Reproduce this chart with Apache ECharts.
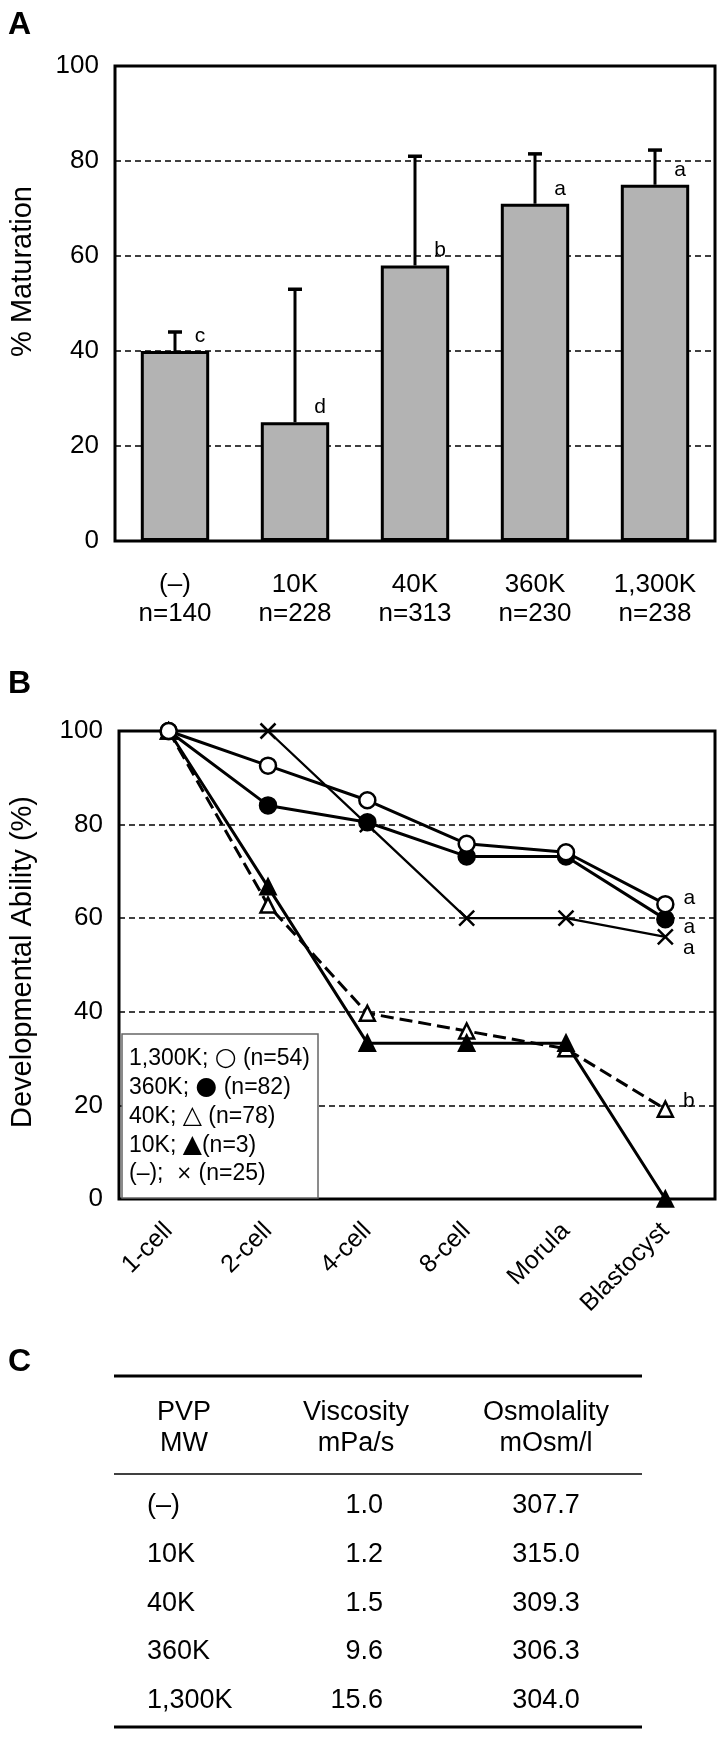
<!DOCTYPE html>
<html>
<head>
<meta charset="utf-8">
<script src="https://cdn.jsdelivr.net/npm/echarts@6/dist/echarts.min.js"></script>
<style>
html,body{margin:0;padding:0;background:#fff;}
#c{width:721px;height:1739px;}
</style>
</head>
<body>
<div id="c"></div>
<script>
// ---------- Data: panel A ----------
const aCategories = ['(–)', '10K', '40K', '360K', '1,300K'];
const aSampleSizes = ['n=140', 'n=228', 'n=313', 'n=230', 'n=238'];
const aMaturation = [40, 25, 58, 71, 75];
const aErrorTop = [44, 53, 81, 81.5, 82.3];
const aLetters = ['c', 'd', 'b', 'a', 'a'];

// ---------- Data: panel B ----------
const bStages = ['1-cell', '2-cell', '4-cell', '8-cell', 'Morula', 'Blastocyst'];
const bNames = ['1,300K', '360K', '40K', '10K', '(–)'];
const bGlyphs = ['○', '●', '△', '▲', '×'];
const bLegendTail = [' (n=54)', ' (n=82)', ' (n=78)', '(n=3)', ' (n=25)'];
const b1300K = [100, 92.6, 85.2, 75.9, 74.1, 63.0];
const b360K = [100, 84.1, 80.5, 73.2, 73.2, 59.8];
const b40K = [100, 62.8, 39.7, 35.9, 32.1, 19.2];
const b10K = [100, 66.7, 33.3, 33.3, 33.3, 0];
const bNone = [null, 100, 80, 60, 60, 56];
const bLetters = ['a', 'a', 'b', '', 'a'];

// ---------- Data: panel C (table) ----------
const cHeadTop = ['PVP', 'Viscosity', 'Osmolality'];
const cHeadBottom = ['MW', 'mPa/s', 'mOsm/l'];
const cMW = ['(–)', '10K', '40K', '360K', '1,300K'];
const cViscosity = ['1.0', '1.2', '1.5', '9.6', '15.6'];
const cOsmolality = ['307.7', '315.0', '309.3', '306.3', '304.0'];

// ---------- Build ----------
const FONT = 'Liberation Sans, Arial, Helvetica, sans-serif';
const chart = echarts.init(document.getElementById('c'), null, {renderer: 'canvas'});

const bSeriesData = [b1300K, b360K, b40K, b10K, bNone];
// label offsets for significance letters (style only)
const bLetterOffset = [[4, -6], [4, 8], [4, -8], [0, 0], [4, 11]];
const bStyles = {
  '1,300K': {symbol: 'circle', size: 16, fill: '#fff', dash: 'solid', lw: 3},
  '360K': {symbol: 'circle', size: 16, fill: '#000', dash: 'solid', lw: 3},
  '40K': {symbol: 'triangle', size: 15, fill: '#fff', dash: [13, 6], lw: 3},
  '10K': {symbol: 'triangle', size: 15, fill: '#000', dash: 'solid', lw: 3},
  '(–)': {symbol: 'path://M0,0L10,10M10,0L0,10', size: 15, fill: 'rgba(0,0,0,0)', dash: 'solid', lw: 2.3}
};
// legend glyph style keys (style only)
const bGlyphStyle = ['g', 'g', 'g', 'g', 'x'];
// draw order (later on top)
const bDrawOrder = ['40K', '10K', '(–)', '360K', '1,300K'];

const bSeries = bDrawOrder.map(name => {
  const idx = bNames.indexOf(name);
  const st = bStyles[name];
  const vals = bSeriesData[idx];
  const last = vals.length - 1;
  const data = vals.map((v, i) => {
    if (i === last && bLetters[idx]) {
      return {
        value: v,
        label: {
          show: true, formatter: bLetters[idx], position: 'right',
          offset: bLetterOffset[idx], fontSize: 21, color: '#000', fontFamily: FONT
        }
      };
    }
    return v === null ? '-' : v;
  });
  return {
    name: name,
    type: 'line',
    xAxisIndex: 1, yAxisIndex: 1,
    data: data,
    symbol: st.symbol,
    symbolSize: st.size,
    showAllSymbol: true,
    connectNulls: false,
    animation: false,
    lineStyle: {color: '#000', width: st.lw, type: st.dash},
    itemStyle: {color: st.fill, borderColor: '#000', borderWidth: 2.5},
    emphasis: {disabled: true}
  };
});

// Table graphics
const TF = 27;
const tableGraphics = [];
const ruleX1 = 114, ruleX2 = 642;
tableGraphics.push({type: 'line', shape: {x1: ruleX1, y1: 1376, x2: ruleX2, y2: 1376}, style: {stroke: '#000', lineWidth: 3}});
tableGraphics.push({type: 'line', shape: {x1: ruleX1, y1: 1474, x2: ruleX2, y2: 1474}, style: {stroke: '#000', lineWidth: 1.5}});
tableGraphics.push({type: 'line', shape: {x1: ruleX1, y1: 1727, x2: ruleX2, y2: 1727}, style: {stroke: '#000', lineWidth: 3}});
const headCenters = [184, 356, 546];
cHeadTop.forEach((t, i) => {
  tableGraphics.push({type: 'text', x: headCenters[i], y: 1413, style: {text: t, align: 'center', verticalAlign: 'middle', fontSize: TF, fontFamily: FONT, fill: '#000'}});
  tableGraphics.push({type: 'text', x: headCenters[i], y: 1444, style: {text: cHeadBottom[i], align: 'center', verticalAlign: 'middle', fontSize: TF, fontFamily: FONT, fill: '#000'}});
});
const rowY0 = 1506, rowStep = 48.6;
cMW.forEach((t, r) => {
  const y = rowY0 + r * rowStep;
  tableGraphics.push({type: 'text', x: 147, y: y, style: {text: t, align: 'left', verticalAlign: 'middle', fontSize: TF, fontFamily: FONT, fill: '#000'}});
  tableGraphics.push({type: 'text', x: 383, y: y, style: {text: cViscosity[r], align: 'right', verticalAlign: 'middle', fontSize: TF, fontFamily: FONT, fill: '#000'}});
  tableGraphics.push({type: 'text', x: 546, y: y, style: {text: cOsmolality[r], align: 'center', verticalAlign: 'middle', fontSize: TF, fontFamily: FONT, fill: '#000'}});
});

const panelLabels = [['A', 25], ['B', 684], ['C', 1362]].map(([t, y]) => ({
  type: 'text', x: 8, y: y,
  style: {text: t, align: 'left', verticalAlign: 'middle', fontSize: 32, fontWeight: 'bold', fontFamily: FONT, fill: '#000'}
}));

const option = {
  animation: false,
  backgroundColor: '#fff',
  textStyle: {fontFamily: FONT, color: '#000'},
  grid: [
    {left: 102, top: 66, width: 613, height: 475, show: true, borderColor: '#000', borderWidth: 3, backgroundColor: 'rgba(0,0,0,0)', containLabel: false},
    {left: 104, top: 731, width: 611, height: 468, show: true, borderColor: '#000', borderWidth: 3, backgroundColor: 'rgba(0,0,0,0)', containLabel: false}
  ],
  xAxis: [
    {
      type: 'category', gridIndex: 0, data: aCategories,
      axisLine: {show: false}, axisTick: {show: false},
      axisLabel: {
        fontSize: 26, color: '#000', fontFamily: FONT, lineHeight: 29, margin: 29, interval: 0,
        formatter: (v, i) => v + '\n' + aSampleSizes[i]
      }
    },
    {
      type: 'category', gridIndex: 1, data: bStages, boundaryGap: true,
      axisLine: {show: false}, axisTick: {show: false},
      axisLabel: {fontSize: 25, color: '#000', fontFamily: FONT, rotate: 45, margin: 28, interval: 0}
    }
  ],
  yAxis: [
    {
      type: 'value', gridIndex: 0, min: 0, max: 100, interval: 20,
      axisLine: {show: false}, axisTick: {show: false},
      axisLabel: {fontSize: 26, color: '#000', fontFamily: FONT, margin: 16},
      splitLine: {show: true, lineStyle: {color: '#000', width: 1.5, type: [6, 4]}},
      name: '% Maturation', nameLocation: 'middle', nameGap: 78, nameRotate: 90,
      nameTextStyle: {fontSize: 29, color: '#000', fontFamily: FONT, padding: [0, 0, 0, 64]}
    },
    {
      type: 'value', gridIndex: 1, min: 0, max: 100, interval: 20,
      axisLine: {show: false}, axisTick: {show: false},
      axisLabel: {fontSize: 26, color: '#000', fontFamily: FONT, margin: 16},
      splitLine: {show: true, lineStyle: {color: '#000', width: 1.5, type: [6, 4]}},
      name: 'Developmental Ability (%)', nameLocation: 'middle', nameGap: 82, nameRotate: 90,
      nameTextStyle: {fontSize: 29, color: '#000', fontFamily: FONT, padding: [0, 0, 0, 6]}
    }
  ],
  legend: {
    data: bNames,
    orient: 'vertical',
    left: 122, top: 1034,
    icon: 'none',
    itemWidth: 0, itemHeight: 24, itemGap: 4,
    padding: [12, 8, 12, 2],
    backgroundColor: '#fff',
    borderColor: '#666', borderWidth: 1.5, borderRadius: 0,
    selectedMode: false,
    textStyle: {
      fontSize: 23, color: '#000', fontFamily: FONT, lineHeight: 24,
      rich: {
        t: {fontSize: 23, fontFamily: FONT, color: '#000', lineHeight: 24},
        g: {fontSize: 25, fontFamily: 'DejaVu Sans', color: '#000', lineHeight: 24},
        x: {fontSize: 19, fontFamily: 'DejaVu Sans', color: '#000', lineHeight: 24}
      }
    },
    formatter: name => {
      const i = bNames.indexOf(name);
      const pre = i === bNames.length - 1 ? ';  ' : '; ';
      return '{t|' + name + pre + '}{' + bGlyphStyle[i] + '|' + bGlyphs[i] + '}{t|' + bLegendTail[i] + '}';
    }
  },
  series: [
    {
      type: 'bar', xAxisIndex: 0, yAxisIndex: 0,
      data: aMaturation,
      barWidth: '57%',
      itemStyle: {color: '#b3b3b3', borderColor: '#000', borderWidth: 3},
      emphasis: {disabled: true},
      z: 2
    },
    {
      type: 'custom', xAxisIndex: 0, yAxisIndex: 0,
      data: aMaturation.map((v, i) => [i, v, aErrorTop[i]]),
      z: 3,
      renderItem: (params, api) => {
        const i = params.dataIndex;
        const base = api.coord([api.value(0), api.value(1)]);
        const top = api.coord([api.value(0), api.value(2)]);
        return {
          type: 'group',
          children: [
            {type: 'line', shape: {x1: base[0], y1: base[1], x2: top[0], y2: top[1]}, style: {stroke: '#000', lineWidth: 3}},
            {type: 'line', shape: {x1: top[0] - 7, y1: top[1], x2: top[0] + 7, y2: top[1]}, style: {stroke: '#000', lineWidth: 3.5}},
            {type: 'text', x: base[0] + 25, y: base[1] - 15,
              style: {text: aLetters[i], align: 'center', verticalAlign: 'middle', fontSize: 21, fontFamily: FONT, fill: '#000'}}
          ]
        };
      }
    }
  ].concat(bSeries),
  graphic: panelLabels.concat(tableGraphics)
};

chart.setOption(option);
</script>
</body>
</html>
